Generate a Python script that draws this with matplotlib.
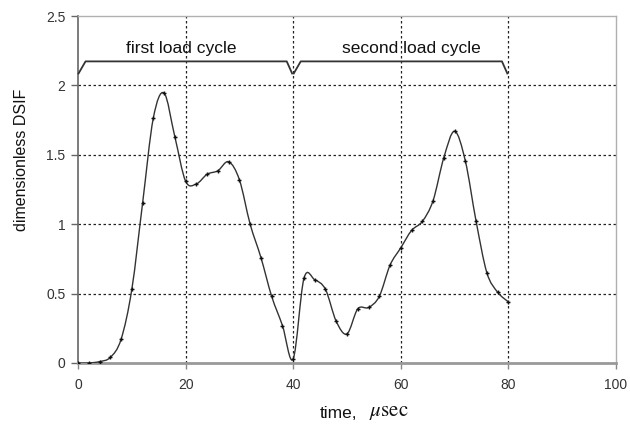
import numpy as np
import matplotlib
matplotlib.use("Agg")
import matplotlib.pyplot as plt
from matplotlib.path import Path
from matplotlib.patches import PathPatch

# ---- data ----
time_us = [0, 2, 4, 6, 8, 10, 12, 14, 16, 18, 20, 22, 24, 26, 28, 30, 32, 34, 36, 38, 40,
           42, 44, 46, 48, 50, 52, 54, 56, 58, 60, 62, 64, 66, 68, 70, 72, 74, 76, 78, 80]
dsif = [0.0, 0.0, 0.01, 0.04, 0.17, 0.53, 1.15, 1.765, 1.945, 1.63, 1.31, 1.29, 1.36, 1.385,
        1.45, 1.32, 1.0, 0.76, 0.48, 0.27, 0.03,
        0.61, 0.60, 0.53, 0.30, 0.21, 0.39, 0.40, 0.48, 0.705, 0.83, 0.955, 1.02, 1.17,
        1.48, 1.67, 1.455, 1.02, 0.65, 0.51, 0.44]
x_ticks = [0, 20, 40, 60, 80, 100]
y_ticks = [0, 0.5, 1, 1.5, 2, 2.5]
y_tick_labels = ['0', '0.5', '1', '1.5', '2', '2.5']
cycle_labels = ["first load cycle", "second load cycle"]
cycle_spans = [(0, 40), (40, 80)]
cycle_label_x = [19.2, 61.9]

plt.rcParams['font.family'] = ['Liberation Sans', 'DejaVu Sans']
plt.rcParams['mathtext.fontset'] = 'stix'

fig = plt.figure(figsize=(6.3, 4.3), dpi=100)
ax = fig.add_axes([78/630, 1 - 363/430, (616-78)/630, (363-16)/430])

# smooth curve (Catmull-Rom as cubic Bezier) through the data points
x = np.asarray(time_us, float)
y = np.asarray(dsif, float)
verts = [(x[0], y[0])]
codes = [Path.MOVETO]
n = len(x)
for i in range(n - 1):
    p0 = np.array([x[max(i-1, 0)], y[max(i-1, 0)]])
    p1 = np.array([x[i], y[i]])
    p2 = np.array([x[i+1], y[i+1]])
    p3 = np.array([x[min(i+2, n-1)], y[min(i+2, n-1)]])
    c1 = p1 + (p2 - p0) / 6.0
    c2 = p2 - (p3 - p1) / 6.0
    verts += [tuple(c1), tuple(c2), tuple(p2)]
    codes += [Path.CURVE4] * 3
ax.add_patch(PathPatch(Path(verts, codes), fill=False, edgecolor='#333333', lw=1.0, zorder=4))
ax.plot(x, y, linestyle='none', marker='+', ms=3, mew=1.0, color='#111111', zorder=5)

ax.set_xlim(0, 100)
ax.set_ylim(0, 2.5)
ax.set_xticks(x_ticks)
ax.set_yticks(y_ticks)
ax.set_xticklabels([str(t) for t in x_ticks])
ax.set_yticklabels(y_tick_labels)

# grid
for gx in x_ticks[1:-1]:
    ax.axvline(gx, color='#222222', lw=0.9, ls=(0, (2, 2)), zorder=1)
for gy in y_ticks[1:-1]:
    ax.axhline(gy, color='#222222', lw=0.9, ls=(0, (2, 2)), zorder=1)

# spines
ax.spines['left'].set_color('#666666')
ax.spines['left'].set_linewidth(1.2)
ax.spines['bottom'].set_color('#999999')
ax.spines['bottom'].set_linewidth(2.0)
ax.spines['top'].set_color('#b0b0b0')
ax.spines['top'].set_linewidth(1.0)
ax.spines['right'].set_color('#b0b0b0')
ax.spines['right'].set_linewidth(1.0)
ax.tick_params(axis='y', direction='out', length=5, width=1, color='#666666',
               labelsize=10, labelcolor='#333333', pad=4)
ax.tick_params(axis='x', direction='out', length=4, width=1, color='#888888',
               labelsize=10, labelcolor='#333333', pad=7)

# load-cycle brackets
for (a, b), lab, lx in zip(cycle_spans, cycle_labels, cycle_label_x):
    bx = [a + 0.1, a + 1.4, b - 1.2, b - 0.2]
    by = [2.086, 2.173, 2.173, 2.086]
    ax.plot(bx, by, color='#333333', lw=1.3, clip_on=False, zorder=6)
    ax.text(lx, 2.265, lab, ha='center', va='center', fontsize=12.5, color='#111111')

fig.text(320/630, 1 - 414/430, 'time,', ha='left', va='center', fontsize=12.5,
         color='#111111')
fig.text(369/630, 1 - 413/430, r'$\mathit{\mu}\mathrm{sec}$', ha='left', va='center',
         fontsize=15, color='#111111')
fig.text(22/630, 1 - 160/430, 'dimensionless DSIF', rotation=90, ha='center',
         va='center', fontsize=11.5, color='#111111')

fig.savefig('out.png', dpi=100)
